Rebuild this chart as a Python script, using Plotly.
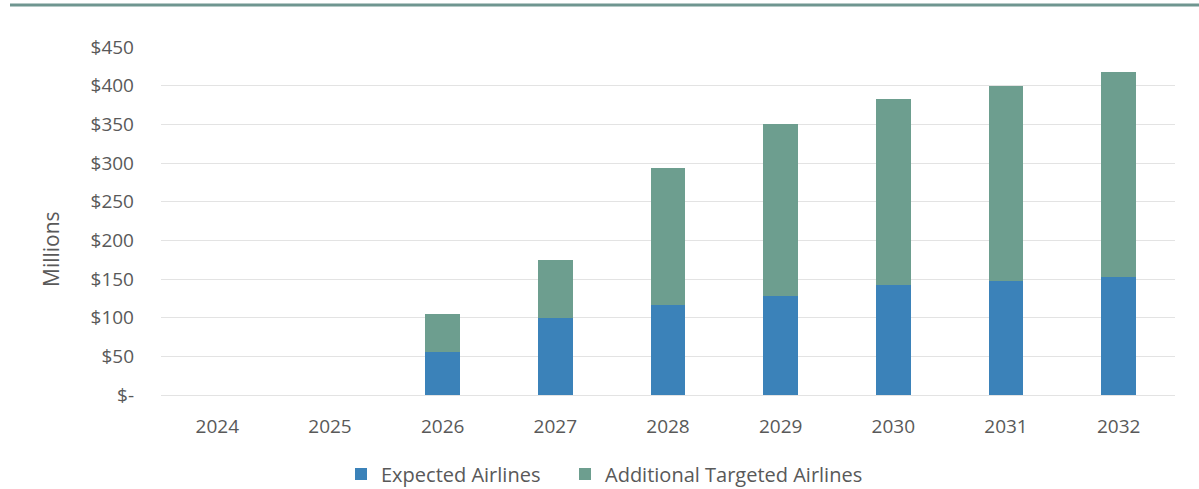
import plotly.graph_objects as go

# Annual values, in millions of dollars
years = ["2024", "2025", "2026", "2027", "2028", "2029", "2030", "2031", "2032"]
expected_airlines = [0, 0, 55, 99, 116, 128, 142, 147, 153]
additional_targeted = [0, 0, 50, 75, 178, 223, 241, 252, 265]

y_ticks = [0, 50, 100, 150, 200, 250, 300, 350, 400, 450]
y_tick_text = ["$-", "$50", "$100", "$150", "$200", "$250", "$300", "$350", "$400", "$450"]

FONT = "Open Sans, Segoe UI, sans-serif"
TEXT = "#595959"
FS = 19

W, H = 1199, 489
MARGIN_L, MARGIN_R, MARGIN_T, MARGIN_B = 161, 24, 47, 94
PLOT_W = W - MARGIN_L - MARGIN_R
PLOT_H = H - MARGIN_T - MARGIN_B

fig = go.Figure()
fig.add_trace(go.Bar(
    name="Expected Airlines", x=years, y=expected_airlines,
    marker=dict(color="#3b82b9", line=dict(width=0)),
    legendwidth=179,
))
fig.add_trace(go.Bar(
    name="Additional Targeted Airlines", x=years, y=additional_targeted,
    marker=dict(color="#6d9e8f", line=dict(width=0)),
))

# header rule across the top of the figure
rule_y = 1 + (MARGIN_T - 5) / PLOT_H

fig.update_layout(
    width=W, height=H,
    barmode="stack", bargap=0.69,
    plot_bgcolor="white", paper_bgcolor="white",
    margin=dict(l=MARGIN_L, r=MARGIN_R, t=MARGIN_T, b=MARGIN_B, autoexpand=False),
    font=dict(family=FONT, size=FS, color=TEXT),
    legend=dict(
        orientation="h", xref="container", yref="container",
        x=(361 - 20) / W, xanchor="left", y=1 - 474 / H, yanchor="middle",
        font=dict(size=20, color=TEXT), traceorder="normal",
        itemwidth=30,
    ),
    showlegend=True,
    shapes=[dict(
        type="line", xref="paper", yref="paper",
        x0=(10 - MARGIN_L) / PLOT_W, x1=1.03, y0=rule_y, y1=rule_y,
        line=dict(color="#6f9690", width=3),
    )],
    annotations=[dict(
        text="Millions", textangle=-90, showarrow=False,
        xref="paper", yref="paper",
        x=(51 - MARGIN_L) / PLOT_W, y=(H - MARGIN_B - 249) / PLOT_H,
        xanchor="center", yanchor="middle",
        font=dict(size=21, color=TEXT),
    )],
)

fig.update_xaxes(
    showgrid=False, showline=False, zeroline=False, automargin=False,
    tickfont=dict(size=FS, color=TEXT), ticklabelstandoff=18,
)
fig.update_yaxes(
    range=[0, 450], tickvals=y_ticks, ticktext=y_tick_text,
    showgrid=True, gridcolor="#e3e3e3", gridwidth=1,
    zeroline=True, zerolinecolor="#e3e3e3", zerolinewidth=1,
    showline=False, ticklabelstandoff=26, automargin=False,
    tickfont=dict(size=FS, color=TEXT),
)

fig.write_html("out.html")
